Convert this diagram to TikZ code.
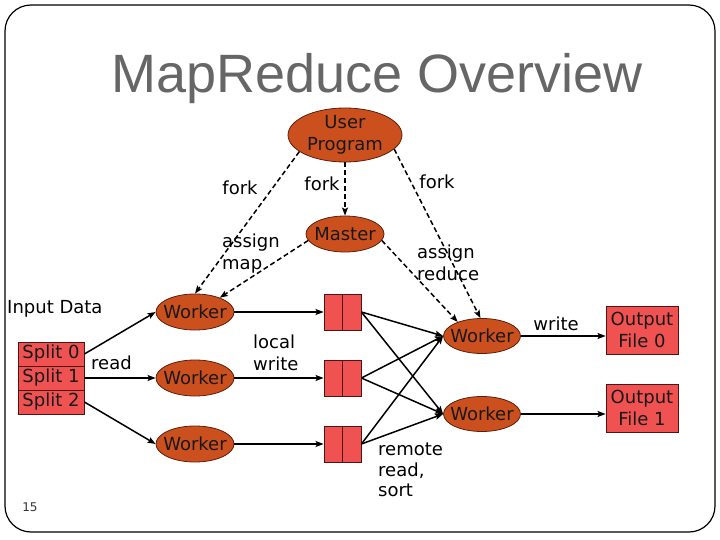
\documentclass[tikz,border=0pt]{standalone}
\usepackage{fontspec}
\setmainfont{DejaVu Sans}
\newfontfamily\titlefont{Liberation Sans}
\usetikzlibrary{shapes.geometric,arrows.meta}
\definecolor{ellfill}{RGB}{204,80,30}
\definecolor{boxfill}{RGB}{240,82,82}
\definecolor{titlegray}{RGB}{102,102,102}
\definecolor{ellline}{RGB}{90,30,10}
\definecolor{boxline}{RGB}{80,20,20}
\begin{document}
\begin{tikzpicture}[x=1pt,y=-1pt,
  every node/.style={font=\fontsize{18}{22}\selectfont},
  ell/.style={ellipse, draw=ellline, fill=ellfill, line width=0.8pt, inner sep=-8pt, text=black!90, align=center},
  wk/.style={ell, minimum width=78pt, minimum height=36pt},
  bx/.style={rectangle, draw=boxline, fill=boxfill, line width=0.8pt, inner sep=0pt, text=black!90, align=center},
  midbox/.style={bx, minimum width=37pt, minimum height=36pt},
  lbl/.style={inner sep=0pt, align=left},
  sarr/.style={line width=1.5pt, -{Stealth[length=8pt,width=6pt,inset=1.5pt]}},
  darr/.style={sarr, dash pattern=on 5pt off 3pt},
]
\useasboundingbox (0,0) rectangle (720,540);
\draw[line width=1.2pt, rounded corners=26pt] (5,5) rectangle (715,532);

\node[font=\titlefont\fontsize{54}{60}\selectfont, text=titlegray, anchor=base, inner sep=0pt] (title) at (377,93) {MapReduce Overview};

% ellipses
\node[ell, minimum width=114pt, minimum height=54pt] (up) at (345,135) {User\\Program};
\node[wk] (m) at (345,234) {Master};
\node[wk] (w1) at (195,312) {Worker};
\node[wk] (w2) at (195,378) {Worker};
\node[wk] (w3) at (195,444) {Worker};
\node[wk, minimum width=77pt, minimum height=35pt] (r1) at (482,336) {Worker};
\node[wk, minimum width=77pt, minimum height=35pt] (r2) at (482,414) {Worker};

% boxes
\node[bx, minimum width=66pt, minimum height=24pt] (s0) at (51,354) {Split 0};
\node[bx, minimum width=66pt, minimum height=24pt] (s1) at (51,378) {Split 1};
\node[bx, minimum width=66pt, minimum height=24pt] (s2) at (51,402) {Split 2};
\node[midbox] (b1) at (342.5,312) {};
\node[midbox] (b2) at (342.5,378) {};
\node[midbox] (b3) at (342.5,444) {};
\foreach \b in {b1,b2,b3}{\draw[boxline, line width=0.8pt] (\b.north) -- (\b.south);}
\node[bx, minimum width=72pt, minimum height=48pt] (o0) at (642,330) {Output\\File 0};
\node[bx, minimum width=72pt, minimum height=48pt] (o1) at (642,408) {Output\\File 1};

% labels
\node[lbl, anchor=west] (inp) at (7,309) {Input Data};
\node[lbl, anchor=west] (rd) at (91,363) {read};
\node[lbl] (f1) at (240,188) {fork};
\node[lbl] (f2) at (322,184) {fork};
\node[lbl] (f3) at (437,182) {fork};
\node[lbl, anchor=west] (am) at (222,254) {assign\\map};
\node[lbl, anchor=west] (ar) at (417,263) {assign\\reduce};
\node[lbl, anchor=west] (lw) at (253,353) {local\\write};
\node[lbl, anchor=west, font=\fontsize{18}{20.5}\selectfont] (rr) at (378,470) {remote\\read,\\sort};
\node[lbl] (wr) at (556,324) {write};
\node[inner sep=0pt, font=\fontsize{12}{14}\selectfont, text=black!80] (pg) at (30,507) {15};

% dashed connectors
\draw[darr] (up.200) -- (w1.north);
\draw[darr] (up.south) -- (m.north);
\draw[darr] (up.-16) -- (r1.95);
\draw[darr] (m.190) -- (w1.30);
\draw[darr] (m.-10) -- (r1.150);

% solid connectors
\draw[sarr] (s0.east) -- (w1.west);
\draw[sarr] (s1.east) -- (w2.west);
\draw[sarr] (s2.east) -- (w3.west);
\draw[sarr] (w1.east) -- (b1.west);
\draw[sarr] (w2.east) -- (b2.west);
\draw[sarr] (w3.east) -- (b3.west);
\foreach \b in {b1,b2,b3}{
  \draw[sarr] (\b.east) -- (r1.west);
  \draw[sarr] (\b.east) -- (r2.west);
}
\draw[sarr] (r1.east) -- (r1.east -| o0.west);
\draw[sarr] (r2.east) -- (r2.east -| o1.west);
\end{tikzpicture}
\end{document}
